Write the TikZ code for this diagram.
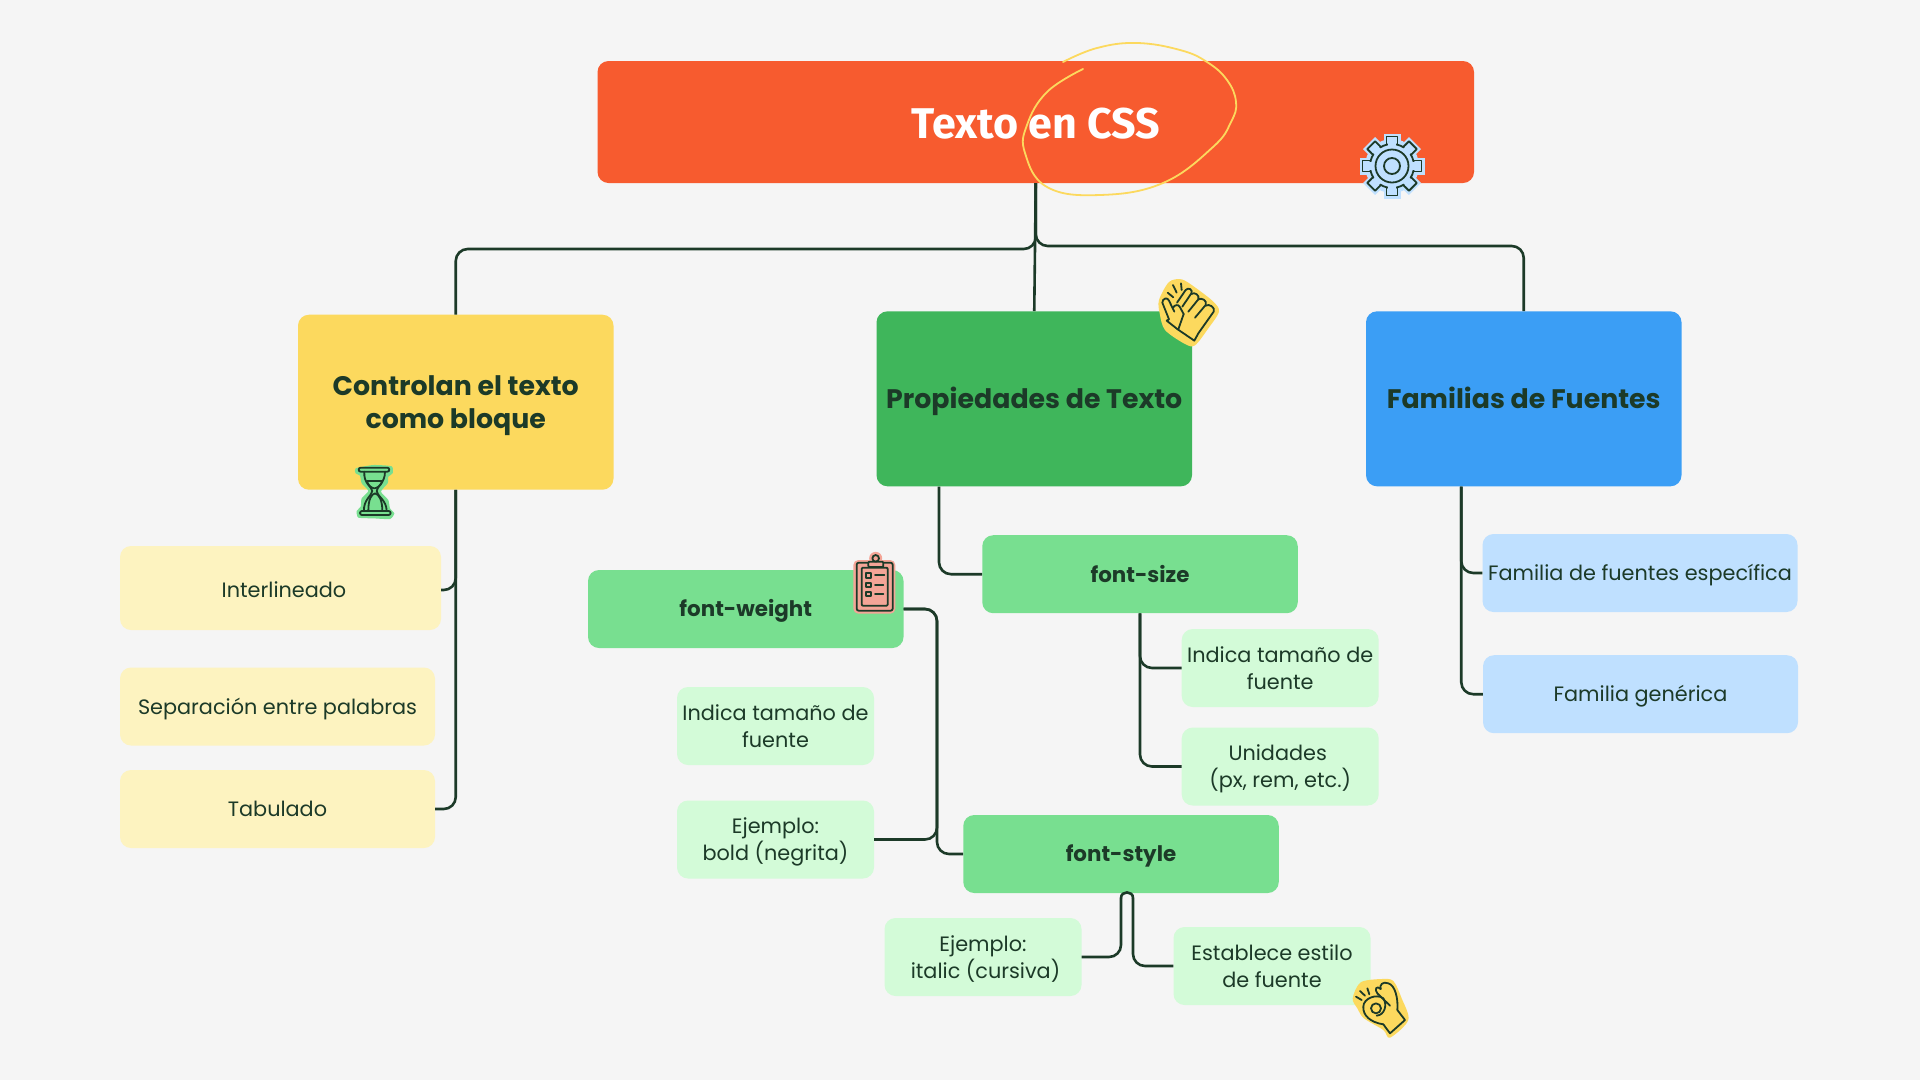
\documentclass[tikz,border=0pt]{standalone}
\usepackage{fontspec}
\setmainfont{Poppins}
\newfontfamily\titlefont{Fira Sans}
\newcommand{\firstline}{\rule{0pt}{1em}}
\definecolor{bgc}{HTML}{F5F5F5}
\definecolor{ink}{HTML}{1C3A28}
\definecolor{orangec}{HTML}{F75B2F}
\definecolor{yellowc}{HTML}{FCD95E}
\definecolor{greenc}{HTML}{3FB65B}
\definecolor{bluec}{HTML}{3B9EF5}
\definecolor{lyellow}{HTML}{FDF3C0}
\definecolor{mgreen}{HTML}{78DF90}
\definecolor{lgreen}{HTML}{D3FBD8}
\definecolor{lblue}{HTML}{BFE0FF}
\definecolor{pinkc}{HTML}{F4A597}
\tikzset{
 boxbase/.style={rectangle,rounded corners=11pt,inner sep=0pt,align=center,text=ink,
   execute at begin node={\rule{0pt}{1em}},execute at end node={\rule[-.25em]{0pt}{.25em}}},
 mainbox/.style={boxbase,minimum width=315.5pt,minimum height=175pt,font=\fontsize{26.8}{33.5}\selectfont\bfseries},
 subbox/.style={boxbase,fill=mgreen,minimum width=315.5pt,minimum height=78pt,font=\fontsize{21.4}{27}\selectfont\bfseries},
 leafbox/.style={boxbase,fill=lgreen,minimum width=197pt,minimum height=78pt,font=\fontsize{20.8}{27}\selectfont},
 yleaf/.style={boxbase,fill=lyellow,font=\fontsize{20.8}{27}\selectfont},
 bleaf/.style={boxbase,fill=lblue,minimum width=315pt,minimum height=78pt,font=\fontsize{20.8}{27}\selectfont},
 conn/.style={draw=ink,line width=2.6pt,rounded corners=12pt},
 iconline/.style={draw=ink,line width=1.8pt,line cap=round,line join=round},
}
\begin{document}
\begin{tikzpicture}[x=1pt,y=-1pt]
\path[use as bounding box,fill=bgc] (0,0) rectangle (1920,1080);

\node[boxbase,fill=orangec,minimum width=876.5pt,minimum height=122pt,text=white] (title) at (1035.75,122) {};
\node[mainbox,fill=yellowc] (yel) at (455.75,402.2) {\firstline Controlan el texto\\como bloque};
\node[mainbox,fill=greenc] (grn) at (1034.25,398.8) {Propiedades de Texto};
\node[mainbox,fill=bluec] (blu) at (1523.75,398.8) {Familias de Fuentes};

\node[yleaf,minimum width=321pt,minimum height=84pt] (inter) at (280.5,588) {\hspace*{7pt}\raisebox{-2pt}{Interlineado}};
\node[yleaf,minimum width=315pt,minimum height=78pt] (sep) at (277.5,706.5) {Separación entre palabras};
\node[yleaf,minimum width=315pt,minimum height=78pt] (tab) at (277.5,809) {Tabulado};

\node[subbox,minimum width=315.5pt] (fw) at (745.75,609) {font-weight};
\node[subbox] (fs) at (1140,574.2) {font-size};
\node[subbox] (fst) at (1121,854) {font-style};

\node[leafbox] (ind1) at (775.5,726) {\firstline Indica tamaño de\\fuente};
\node[leafbox] (eb) at (775.5,839.5) {\firstline Ejemplo:\\bold (negrita)};
\node[leafbox] (ind2) at (1280.2,668) {\firstline Indica tamaño de\\fuente};
\node[leafbox] (uni) at (1280.2,766.5) {\firstline\hspace*{-5pt}Unidades\\(px, rem, etc.)};
\node[leafbox] (eit) at (983,957) {\firstline Ejemplo:\\\hspace*{5pt}italic (cursiva)};
\node[leafbox] (est) at (1272,966) {\firstline Establece estilo\\de fuente};
\node[bleaf] (fam1) at (1640,573) {Familia de fuentes específica};
\node[bleaf] (fam2) at (1640.5,694.2) {Familia genérica};

\draw[conn] (title.south) -- (title.south |- 0,249) -- (yel.north |- 0,249) -- (yel.north);
\draw[conn] (title.south) -- (title.south |- 0,246) -- (blu.north |- 0,246) -- (blu.north);
\draw[conn] (title.south) -- (grn.north);

\draw[conn] (yel.south) |- ([yshift=-2pt]inter.east);
\draw[conn] (yel.south) |- (tab.east);

\draw[conn] ([xshift=-95.25pt]grn.south) |- (fs.west);
\draw[conn] (fw.east) -- (fw.east -| 937,0) -- (eb.east -| 937,0) -- (eb.east);
\draw[conn] (fw.east) -- (fw.east -| 937,0) -- (fst.west -| 937,0) -- (fst.west);

\draw[conn] (fs.south) |- (ind2.west);
\draw[conn] (fs.south) |- (uni.west);

\draw[conn] ([xshift=-62.5pt]blu.south) |- (fam1.west);
\draw[conn] ([xshift=-62.5pt]blu.south) |- (fam2.west);

\coordinate (loopa) at (1121,898);
\coordinate (loopb) at (1133,898);
\draw[conn] (eit.east) -- (fst.south |- eit.east) -- (loopa);
\draw[conn] (est.west) -- (loopb |- est.west) -- (loopb);
\draw[draw=ink,line width=2.6pt] (loopa) .. controls (1121,890.5) and (1133,890.5) .. (loopb);

% title text and scribble
\node[font=\titlefont\fontsize{43}{50}\selectfont\bfseries,text=white,inner sep=0pt] (ttxt) at (1036,124) {Texto en CSS};
\draw[draw=yellowc,line width=1.8pt,line cap=round] plot[smooth,tension=0.7] coordinates {
 (1083,69) (1047,92) (1027,125) (1025,153) (1047,187) (1100,195) (1163,183) (1213,147) (1231,122) (1236,102) (1227,80) (1207,62) (1180,50) (1137,43) (1097,48) (1063,62)};

% gear icon
\begin{scope}[shift={(1392,166)}]
 \fill[lblue,draw=lblue,line width=6pt,line join=round] (0,0) circle (24);
 \foreach \a in {0,45,...,315}{
  \fill[lblue,draw=lblue,line width=5pt,rotate=\a] (-6,-30) rectangle (6,-18);
 }
 \foreach \a in {0,45,...,315}{
  \draw[iconline,fill=lblue,rotate=\a] (-5.5,-19) -- (-5.5,-29.5) -- (5.5,-29.5) -- (5.5,-19);
 }
 \draw[iconline,fill=lblue] (0,0) circle (22);
 \foreach \a in {0,45,...,315}{
  \fill[lblue,rotate=\a] (-4.2,-24) rectangle (4.2,-20);
 }
 \draw[iconline] (0,0) circle (16.5);
 \draw[iconline] (0,0) circle (8);
\end{scope}

% clap icon
\begin{scope}[shift={(1145,270)},x=0.3333pt,y=-0.3333pt]
 \fill[yellowc] plot[smooth cycle,tension=0.5] coordinates {(72,36) (110,28) (150,52) (205,95) (222,125) (190,175) (150,226) (120,222) (60,180) (44,130) (42,90)};
 \draw[iconline] (98,178) -- (65,152) -- (72,148) -- (52,98) .. controls (52,85) and (68,80) .. (72,92) -- (88,125);
 \draw[iconline] (85,112) .. controls (88,105) and (100,102) .. (104,110) -- (116,132);
 \draw[iconline] (96,98) -- (122,60) .. controls (130,50) and (145,60) .. (139,70) -- (112,110);
 \draw[iconline] (139,72) .. controls (148,65) and (165,75) .. (160,88) -- (130,125);
 \draw[iconline] (160,88) .. controls (170,82) and (188,92) .. (182,105) -- (150,143);
 \draw[iconline] (182,107) .. controls (192,100) and (212,112) .. (206,125) -- (160,190) -- (148,212) -- (98,178);
 \draw[iconline] (116,132) -- (100,178);
 \draw[iconline] (68,68) -- (85,82) (84,45) -- (95,68) (108,40) -- (110,60);
\end{scope}

% ok-hand icon
\begin{scope}[shift={(1340,965)},x=0.3333pt,y=-0.3333pt]
 \fill[yellowc] plot[smooth cycle,tension=0.5] coordinates {(62,52) (125,42) (160,48) (185,100) (205,165) (150,218) (130,195) (72,160) (52,130) (38,100)};
 \draw[iconline] (130,178) -- (150,205) -- (195,165) -- (172,135) .. controls (175,100) and (165,60) .. (145,55) .. controls (128,48) and (118,60) .. (122,72);
 \draw[iconline] (122,72) .. controls (110,60) and (102,72) .. (112,85) -- (150,122);
 \draw[iconline] (130,178) .. controls (90,172) and (68,150) .. (70,125) .. controls (70,100) and (110,85) .. (130,100);
 \draw[iconline] (108,130) circle (5pt);
 \draw[iconline] (130,100) .. controls (142,118) and (135,150) .. (110,152);
 \draw[iconline] (48,95) -- (65,105) (60,78) -- (75,92) (82,70) -- (88,88);
\end{scope}

% clipboard icon
\begin{scope}[shift={(840,545)},x=0.3333pt,y=-0.3333pt]
 \fill[pinkc,rounded corners=5pt] (40,45) rectangle (166,206);
 \fill[pinkc] (107,40) circle (6.5pt);
 \draw[iconline,rounded corners=2pt] (50,53) rectangle (158,197);
 \draw[iconline,rounded corners=1pt] (65,68) rectangle (143,182);
 \draw[iconline,fill=pinkc,rounded corners=1pt] (85,50) rectangle (130,66);
 \draw[iconline,fill=pinkc] (107,40) circle (3.3pt);
 \draw[iconline] (77,85) rectangle (92,98) (77,113) rectangle (92,126) (77,141) rectangle (92,154);
 \draw[iconline] (105,91) -- (133,91) (105,120) -- (130,120) (105,148) -- (130,148);
\end{scope}

% hourglass icon
\begin{scope}[shift={(345,455)},x=0.3333pt,y=-0.3333pt]
 \fill[mgreen] plot[smooth cycle,tension=0.35] coordinates {(32,40) (85,30) (140,34) (143,55) (130,65) (128,85) (108,110) (130,135) (135,160) (148,175) (135,192) (85,190) (40,188) (35,168) (47,155) (50,130) (70,108) (50,85) (45,62) (32,55)};
 \draw[iconline,rounded corners=2pt] (41,38) rectangle (133,50);
 \draw[iconline,rounded corners=2pt] (45,168) rectangle (137,180);
 \draw[iconline] (58,50) .. controls (55,85) and (80,95) .. (82,108) .. controls (80,122) and (55,135) .. (57,168);
 \draw[iconline] (120,50) .. controls (120,85) and (95,95) .. (95,108) .. controls (95,122) and (125,135) .. (125,168);
 \draw[iconline] (66,78) -- (112,78) .. controls (108,92) and (95,100) .. (88,100) .. controls (80,100) and (68,90) .. (66,78);
 \draw[iconline] (70,168) .. controls (70,130) and (80,118) .. (90,115) .. controls (102,118) and (112,135) .. (112,168);
\end{scope}
\end{tikzpicture}
\end{document}
